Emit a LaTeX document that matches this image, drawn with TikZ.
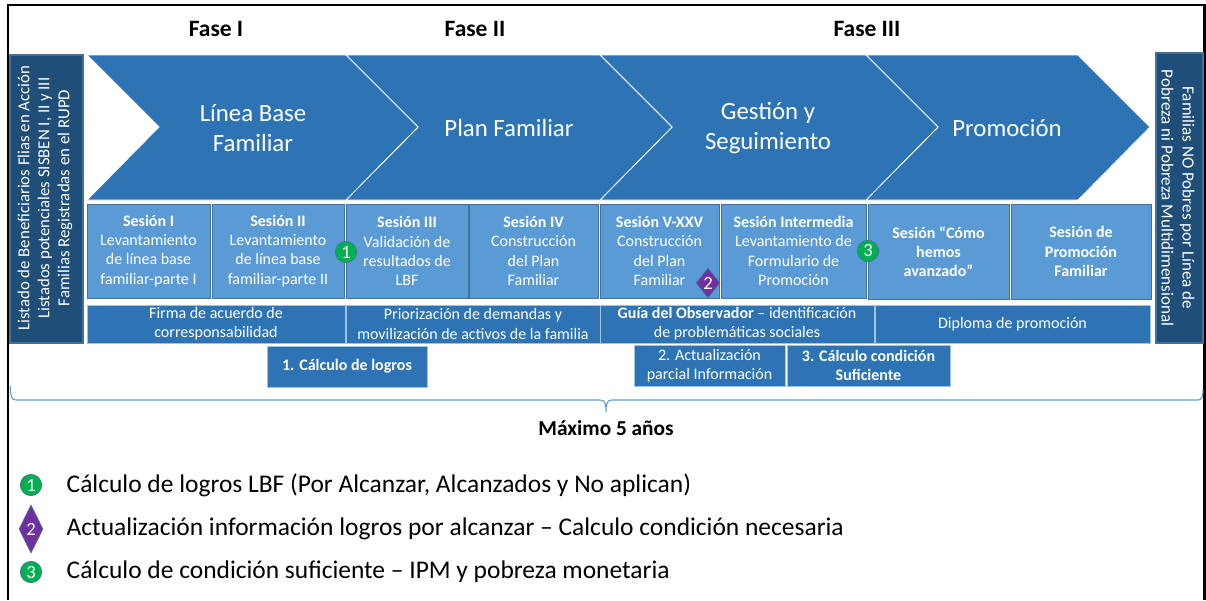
\documentclass[tikz,border=0pt]{standalone}
\usepackage{fontspec}
\setmainfont{Carlito}
\usetikzlibrary{shapes.geometric}

\definecolor{chevblue}{HTML}{2E74B5}
\definecolor{sesblue}{HTML}{5B9BD5}
\definecolor{sesline}{HTML}{41719C}
\definecolor{sidedark}{HTML}{1F4E79}
\definecolor{bandline}{HTML}{9DC3E6}
\definecolor{bracecol}{HTML}{5B9BD5}
\definecolor{badgegreen}{HTML}{00B050}
\definecolor{badgepurple}{HTML}{7030A0}

\begin{document}
\begin{tikzpicture}[x = .75pt, y = -.75pt,
  chev/.style = {fill = chevblue, draw = white, line width = .6pt},
  chevtext/.style = {text = white, align = center, font = \fontsize{18.6}{22.5}\selectfont},
  sesion/.style = {fill = sesblue, draw = sesline, line width = .6pt},
  sesiontext/.style = {text = white, align = center, font = \fontsize{12}{14.4}\selectfont},
  band/.style = {fill = chevblue, draw = bandline, line width = .4pt},
  side/.style = {fill = sidedark, draw = sesline, line width = .8pt},
  sidetext/.style = {text = white, align = center, font = \fontsize{12.6}{15}\selectfont},
  fasetext/.style = {font = \fontsize{17.6}{20}\bfseries\selectfont},
  legendtext/.style = {anchor = west, font = \fontsize{19.1}{22}\selectfont},
  badge/.style = {circle, fill = badgegreen, draw = sesline, line width = .5pt, text = white, inner sep = 0pt, minimum size = 16pt, font = \fontsize{14}{14}\selectfont},
  badgedia/.style = {diamond, fill = badgepurple, draw = sesline, line width = .5pt, text = white, inner sep = 0pt, minimum width = 18pt, minimum height = 22pt, font = \fontsize{14}{14}\selectfont}]
\useasboundingbox (0,0) rectangle (1206,600);
\draw[line width = 1.7pt] (8,600) -- (8,5) -- (1204.5,5) -- (1204.5,600);

\node[fasetext] (faseI) at (216,29) {Fase I};
\node[fasetext] (faseII) at (475,29) {Fase II};
\node[fasetext] (faseIII) at (867,29) {Fase III};

% side panels
\draw[side] (10,55) rectangle (83,343);
\node[sidetext, rotate = 90] (listados) at (45,198) {Listado de Beneficiarios Flias en Acción\\Listados potenciales SISBEN I, II y III\\Familias Registradas en el RUPD};
\draw[side] (1156,53) rectangle (1203,343);
\node[sidetext, rotate = -90, font = \fontsize{12.8}{15.8}\selectfont] (nopobres) at (1178,198) {Familias NO Pobres por Línea de\\Pobreza ni Pobreza Multidimensional};

% chevrons
\draw[chev] (866,55) -- (1078,55) -- (1150,127) -- (1078,200) -- (866,200) -- (938,127) -- cycle;
\draw[chev] (600,55) -- (866,55) -- (938,127) -- (866,200) -- (600,200) -- (672,127) -- cycle;
\draw[chev] (346,55) -- (600,55) -- (672,127) -- (600,200) -- (346,200) -- (418,127) -- cycle;
\draw[chev] (87,55) -- (346,55) -- (418,127) -- (346,200) -- (87,200) -- (159,127) -- cycle;
\node[chevtext] (lineabase) at (253,128) {Línea Base\\Familiar};
\node[chevtext] (plan) at (509,128) {Plan Familiar};
\node[chevtext] (gestion) at (768,128) {Gestión y\\Seguimiento};
\node[chevtext] (promocion) at (1007,128) {Promoción};

% sessions
\draw[sesion] (87,204) rectangle (210,298) node[midway, sesiontext] (ses1) {\textbf{Sesión I}\\Levantamiento\\de línea base\\familiar-parte I};
\draw[sesion] (212,204) rectangle (344,298) node[midway, sesiontext] (ses2) {\textbf{Sesión II}\\Levantamiento\\de línea base\\familiar-parte II};
\draw[sesion] (346,204) rectangle (468,298) node[midway, sesiontext] (ses3) {\textbf{Sesión III}\\Validación de\\resultados de\\LBF};
\draw[sesion] (469,204) rectangle (598,298) node[midway, sesiontext] (ses4) {\textbf{Sesión IV}\\Construcción\\del Plan\\Familiar};
\draw[sesion] (600,204) rectangle (719,298) node[midway, sesiontext] (ses5) {\textbf{Sesión V-XXV}\\Construcción\\del Plan\\Familiar};
\draw[sesion] (721,204) rectangle (866,298) node[midway, sesiontext] (sesinter) {\textbf{Sesión Intermedia}\\Levantamiento de\\Formulario de\\Promoción};
\draw[sesion] (868,204) rectangle (1009,299) node[midway, sesiontext] (sescomo) {\textbf{Sesión “Cómo}\\\textbf{hemos}\\\textbf{avanzado”}};
\draw[sesion] (1011,204) rectangle (1151,299) node[midway, sesiontext] (sesprom) {\textbf{Sesión de}\\\textbf{Promoción}\\\textbf{Familiar}};

% bands
\draw[band] (87,305) rectangle (345,343) node[midway, sesiontext] (firma) {Firma de acuerdo de\\corresponsabilidad};
\draw[band] (346,305) rectangle (600,343) node[midway, sesiontext] (priorizacion) {Priorización de demandas y\\movilización de activos de la familia};
\draw[band] (600,305) rectangle (874,343) node[midway, sesiontext] (guia) {\textbf{Guía del Observador} – identificación\\de problemáticas sociales};
\draw[band] (875,305) rectangle (1150,343) node[midway, sesiontext] (diploma) {Diploma de promoción};

\draw[band] (267,346) rectangle (427,387) node[midway, sesiontext] (calculo1) {\textbf{1. Cálculo de logros}};
\draw[band] (634,345) rectangle (785,386) node[midway, sesiontext] (calculo2) {2. Actualización\\parcial Información};
\draw[band] (787,345) rectangle (950,386) node[midway, sesiontext] (calculo3) {\textbf{3. Cálculo condición}\\\textbf{Suficiente}};

% badges
\node[badge] (b1) at (346,252) {1};
\node[badgedia] (b2) at (708,283) {2};
\node[badge] (b3) at (868,251) {3};

% brace
\draw[bracecol, line width = .8pt] (10,386) .. controls (11,396) and (11,400) .. (16,400) -- (600,400) .. controls (605,400) and (606,404) .. (606,412) .. controls (606,404) and (607,400) .. (612,400) -- (1198,400) .. controls (1202,400) and (1203,396) .. (1203,390);
\node[font = \fontsize{16}{19}\bfseries\selectfont] (maximo) at (606,428) {Máximo 5 años};

% legend
\node[badge] (l1) at (31,485) {1};
\node[legendtext] (t1) at (62,485) {Cálculo de logros LBF (Por Alcanzar, Alcanzados y No aplican)};
\node[badgedia, minimum width = 18pt, minimum height = 36pt] (l2) at (31,529) {2};
\node[legendtext] (t2) at (62,529) {Actualización información logros por alcanzar – Calculo condición necesaria};
\node[badge] (l3) at (31,572) {3};
\node[legendtext] (t3) at (62,572) {Cálculo de condición suficiente – IPM y pobreza monetaria};
\end{tikzpicture}
\end{document}
